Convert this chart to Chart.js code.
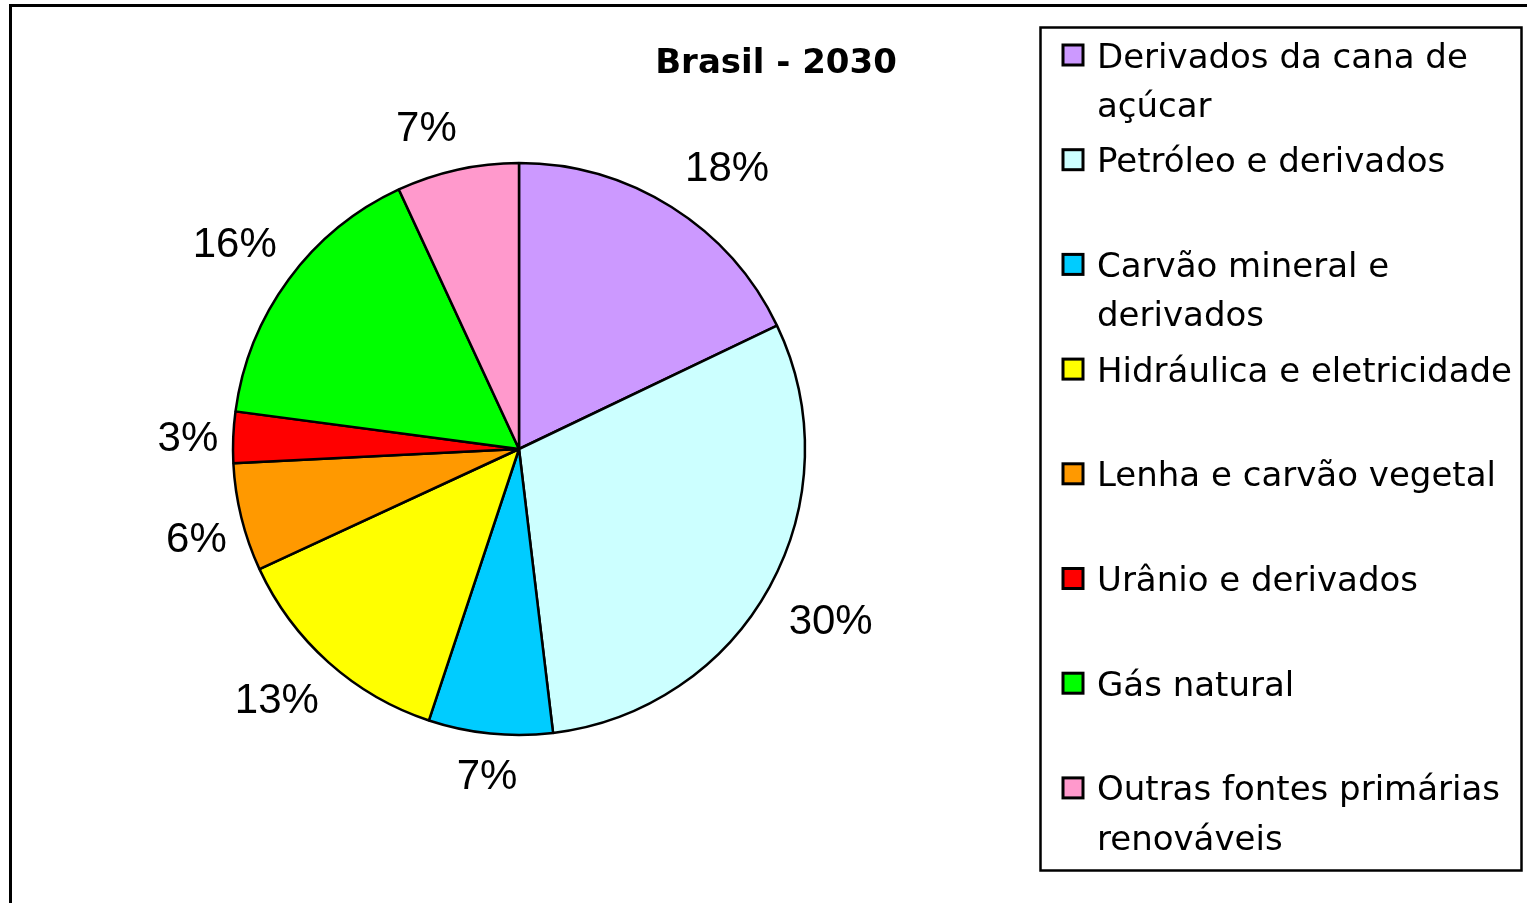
<!DOCTYPE html>
<html>
<head>
<meta charset="utf-8">
<script src="https://cdn.jsdelivr.net/npm/chart.js@4.4.1/dist/chart.umd.min.js"></script>
<style>
  html, body { margin: 0; padding: 0; background: #ffffff; }
  #wrap { width: 1527px; height: 903px; position: relative; }
</style>
</head>
<body>
<div id="wrap"><canvas id="c" width="1527" height="903"></canvas></div>
<script>
// ---- data ----
const chartTitle = 'Brasil - 2030';
const categories = [
  'Derivados da cana de açúcar',
  'Petróleo e derivados',
  'Carvão mineral e derivados',
  'Hidráulica e eletricidade',
  'Lenha e carvão vegetal',
  'Urânio e derivados',
  'Gás natural',
  'Outras fontes primárias renováveis'
];
const shares = [17.9, 30.2, 7.0, 13.0, 6.1, 2.9, 16.0, 6.9];
const sliceColors = ['#CC99FF', '#CCFFFF', '#00CCFF', '#FFFF00', '#FF9900', '#FF0000', '#00FF00', '#FF99CC'];

// ---- plugins ----
const framePlugin = {
  id: 'frame',
  beforeDraw(chart) {
    const ctx = chart.ctx;
    ctx.save();
    ctx.fillStyle = '#ffffff';
    ctx.fillRect(0, 0, chart.width, chart.height);
    ctx.strokeStyle = '#000000';
    ctx.lineWidth = 3;
    ctx.beginPath();
    ctx.moveTo(10.5, chart.height + 5);
    ctx.lineTo(10.5, 5.5);
    ctx.lineTo(chart.width + 5, 5.5);
    ctx.stroke();
    // title
    ctx.fillStyle = '#000000';
    ctx.font = 'bold 34px "DejaVu Sans"';
    ctx.textAlign = 'center';
    ctx.textBaseline = 'alphabetic';
    ctx.fillText(chartTitle, 776, 73);
    ctx.restore();
  }
};

const pctLabelPlugin = {
  id: 'pctLabels',
  afterDatasetsDraw(chart) {
    const ctx = chart.ctx;
    const meta = chart.getDatasetMeta(0);
    const data = chart.data.datasets[0].data;
    const total = data.reduce((a, b) => a + b, 0);
    const fs = 42;
    const clamp = v => Math.max(-1, Math.min(1, v));
    ctx.save();
    ctx.font = fs + 'px "Liberation Sans", Arial, sans-serif';
    ctx.fillStyle = '#000000';
    ctx.textAlign = 'center';
    ctx.textBaseline = 'alphabetic';
    meta.data.forEach((arc, i) => {
      const p = arc.getProps(['x', 'y', 'startAngle', 'endAngle', 'outerRadius'], true);
      const mid = (p.startAngle + p.endAngle) / 2;
      const ux = Math.cos(mid), uy = Math.sin(mid);
      const txt = Math.round(data[i] / total * 100) + '%';
      const hw = ctx.measureText(txt).width / 2 + 2;
      const hh = uy < 0 ? 30 : 22;
      const rl = p.outerRadius + 16;
      const ax = p.x + ux * rl;
      const ay = p.y + uy * rl;
      const fx = Math.sign(ux) * Math.min(1, Math.max(0, (Math.abs(ux) - 0.08) * 7));
      const fy = clamp(2.5 * uy);
      const cx = ax + fx * hw + 3;
      const cy = ay + fy * hh;
      ctx.fillText(txt, cx, cy + 2 + fs * 0.358);
    });
    ctx.restore();
  }
};

const legendBoxPlugin = {
  id: 'legendBox',
  afterDraw(chart) {
    const ctx = chart.ctx;
    const labels = chart.data.labels;
    const colors = chart.data.datasets[0].backgroundColor;
    ctx.save();
    ctx.strokeStyle = '#000000';
    ctx.lineWidth = 2.5;
    ctx.strokeRect(1040.5, 27.5, 481, 843);
    ctx.font = '34px "DejaVu Sans"';
    ctx.textAlign = 'left';
    ctx.textBaseline = 'alphabetic';
    const textX = 1097, maxW = 420, step = 104.7, lineH = 49.5, y0 = 55, capHalf = 12.5;
    labels.forEach((lab, i) => {
      const yc = y0 + i * step;
      // marker
      ctx.fillStyle = colors[i];
      ctx.fillRect(1063, yc - 10, 20, 20);
      ctx.lineWidth = 3;
      ctx.strokeStyle = '#000000';
      ctx.strokeRect(1063, yc - 10, 20, 20);
      // wrapped text
      const words = lab.split(' ');
      const lines = [];
      let cur = '';
      words.forEach(w => {
        const test = cur ? cur + ' ' + w : w;
        if (ctx.measureText(test).width > maxW && cur) { lines.push(cur); cur = w; }
        else cur = test;
      });
      if (cur) lines.push(cur);
      ctx.fillStyle = '#000000';
      lines.forEach((ln, k) => ctx.fillText(ln, textX, yc + capHalf + k * lineH));
    });
    ctx.restore();
  }
};

new Chart(document.getElementById('c'), {
  type: 'pie',
  data: {
    labels: categories,
    datasets: [{
      data: shares,
      backgroundColor: sliceColors,
      borderColor: '#000000',
      borderWidth: 2.5,
      hoverOffset: 0,
      radius: 286
    }]
  },
  options: {
    responsive: false,
    animation: false,
    events: [],
    layout: { padding: { left: 100, right: 589, top: 100, bottom: 105 } },
    plugins: {
      legend: { display: false },
      title: { display: false },
      tooltip: { enabled: false }
    }
  },
  plugins: [framePlugin, pctLabelPlugin, legendBoxPlugin]
});
</script>
</body>
</html>
